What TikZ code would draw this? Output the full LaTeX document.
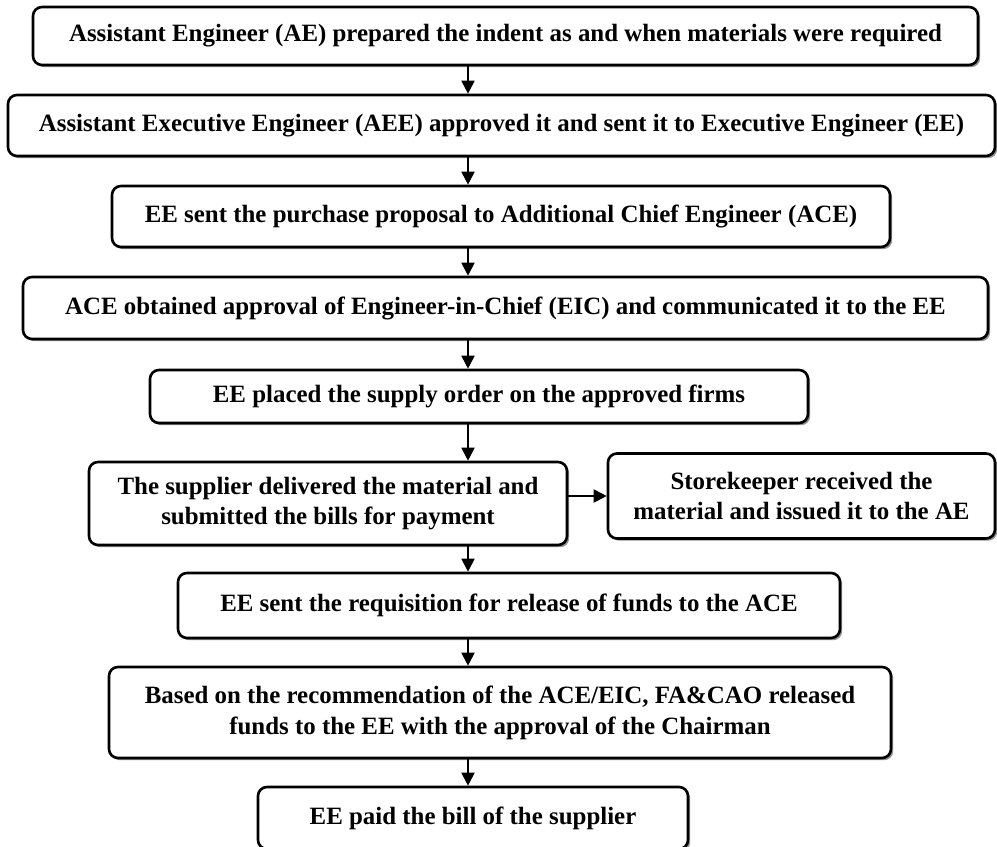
\documentclass[tikz,border=0pt]{standalone}
\usepackage{fontspec}
\setmainfont{Liberation Serif}
\usetikzlibrary{shadows,arrows.meta}
\begin{document}
\begin{tikzpicture}[x=1bp,y=-1bp,
  box/.style={draw=black, line width=2.6bp, rounded corners=9bp, fill=white,
    inner sep=0pt, align=center, font=\fontsize{25}{31}\selectfont\bfseries,
    drop shadow={shadow xshift=2.2bp, shadow yshift=-2.2bp, fill=gray!85, opacity=1}},
  arr/.style={line width=1.8bp, -{Triangle[length=13bp,width=13bp]}}]
\useasboundingbox (0,0) rectangle (997,847);
\node[box, minimum width=945bp, minimum height=58bp] (b1) at (505.5,36) {Assistant Engineer (AE) prepared the indent as and when materials were required};
\node[box, minimum width=987bp, minimum height=61bp] (b2) at (501.5,125.5) {Assistant Executive Engineer (AEE) approved it and sent it to Executive Engineer (EE)};
\node[box, minimum width=778bp, minimum height=61bp] (b3) at (501,216.5) {EE sent the purchase proposal to Additional Chief Engineer (ACE)};
\node[box, minimum width=965bp, minimum height=62bp] (b4) at (505.5,308) {ACE obtained approval of Engineer-in-Chief (EIC) and communicated it to the EE};
\node[box, minimum width=658bp, minimum height=53bp] (b5) at (479,396.5) {EE placed the supply order on the approved firms};
\node[box, minimum width=478bp, minimum height=83bp] (b6) at (328,503.5) {The supplier delivered the material and\\submitted the bills for payment};
\node[box, minimum width=387bp, minimum height=85bp] (b6r) at (801.5,496) {Storekeeper received the\\material and issued it to the AE};
\node[box, minimum width=662bp, minimum height=65bp] (b7) at (509,605.5) {EE sent the requisition for release of funds to the ACE};
\node[box, minimum width=782bp, minimum height=91bp] (b8) at (500,712.5) {Based on the recommendation of the ACE/EIC, FA\&CAO released\\funds to the EE with the approval of the Chairman};
\node[box, minimum width=430bp, minimum height=62bp] (b9) at (473,818) {EE paid the bill of the supplier};
\coordinate (ax) at (468,0);
\draw[arr] (b1.south -| ax) -- (b2.north -| ax);
\draw[arr] (b2.south -| ax) -- (b3.north -| ax);
\draw[arr] (b3.south -| ax) -- (b4.north -| ax);
\draw[arr] (b4.south -| ax) -- (b5.north -| ax);
\draw[arr] (b5.south -| ax) -- (b6.north -| ax);
\draw[arr] (b6.south -| ax) -- (b7.north -| ax);
\draw[arr] (b7.south -| ax) -- (b8.north -| ax);
\draw[arr] (b8.south -| ax) -- (b9.north -| ax);
\draw[arr] (b6.east |- b6r.west) -- (b6r.west);
\end{tikzpicture}
\end{document}
